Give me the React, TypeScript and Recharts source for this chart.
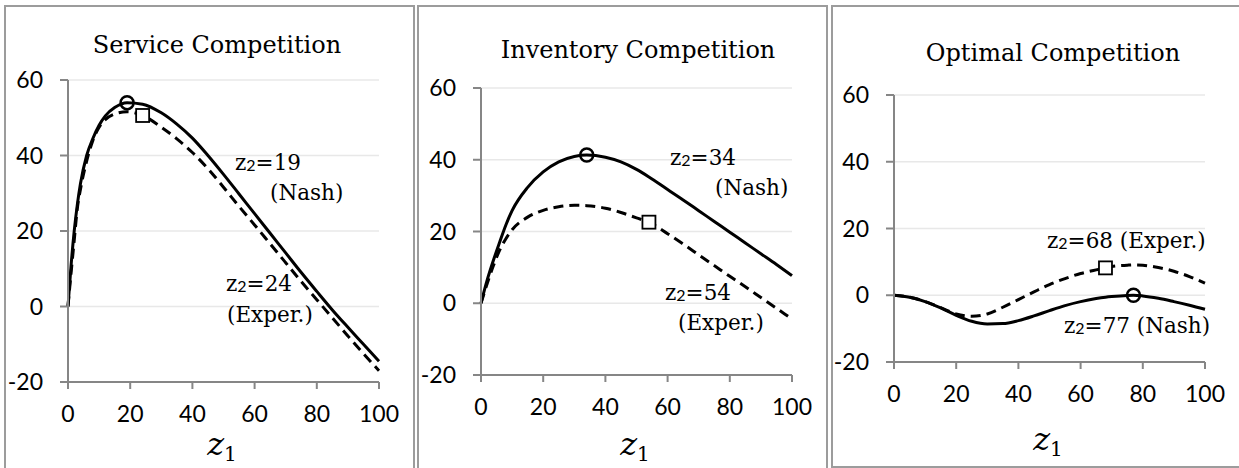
import React from "react";
import {
  ComposedChart,
  Line,
  Scatter,
  XAxis,
  YAxis,
  CartesianGrid,
} from "recharts";

// values, one set per panel
const serviceZ1 = [0, 1, 2, 3, 4, 6, 8, 10, 12, 15, 19, 24, 30, 35, 40, 45, 50, 55, 60, 65, 70, 75, 80, 85, 90, 95, 100];
const serviceNash = [0, 11, 20, 27, 32.5, 40, 44.5, 48, 50.5, 52.7, 54, 53.6, 51.3, 48.3, 44.6, 40, 35, 29.8, 24.6, 19.4, 14.2, 9, 4, -0.9, -5.5, -10, -14.5];
const serviceExper = [0, 9, 17.5, 26, 31, 38.5, 44, 47.5, 49.5, 51, 51.6, 50.6, 47.5, 44.4, 40.8, 36.5, 31.6, 26.5, 21.6, 16.6, 11.6, 6.6, 1.8, -3, -7.8, -12.5, -17];

const inventoryZ1 = [0, 2, 4, 6, 8, 10, 15, 20, 25, 30, 34, 40, 45, 50, 54, 60, 65, 70, 75, 80, 85, 90, 95, 100];
const inventoryNash = [0, 6.5, 12, 17, 21.8, 25.8, 32.3, 36.6, 39.4, 40.9, 41.3, 40.7, 39.4, 37.3, 35.2, 31.7, 28.8, 25.8, 22.8, 19.8, 16.8, 13.8, 10.8, 7.7];
const inventoryExper = [0, 5.5, 10.5, 14.8, 18, 20.5, 24, 25.9, 26.9, 27.3, 27.2, 26.5, 25.3, 23.8, 22.6, 19.4, 16.5, 13.5, 10.5, 7.5, 4.6, 1.6, -1.4, -4.4];

const optimalZ1 = [0, 5, 10, 15, 20, 25, 30, 35, 40, 45, 50, 55, 60, 65, 68, 70, 75, 77, 80, 85, 90, 95, 100];
const optimalNash = [0, -0.6, -1.9, -3.8, -6, -7.8, -8.6, -8.5, -7.6, -6.2, -4.6, -3.1, -1.9, -1, -0.6, -0.4, -0.05, 0, -0.2, -0.9, -1.9, -3, -4.2];
const optimalExper = [0, -0.6, -1.9, -3.7, -5.6, -6.3, -5.6, -3.6, -1.3, 1, 3.2, 5, 6.5, 7.6, 8.2, 8.6, 9, 9.1, 9, 8.3, 7.2, 5.6, 3.6];

const xTicks = [0, 20, 40, 60, 80, 100];
const yTicks = [-20, 0, 20, 40, 60];

const serif = "'DejaVu Serif', serif";
const sans = "Lato, 'Open Sans', sans-serif";
const axisGray = "#868686";
const noteSize = 21.5;

type Pt = { z1: number; v: number };

const Circle = (p: any) => (
  <circle cx={p.cx} cy={p.cy} r={6.5} fill="none" stroke="#000" strokeWidth={2.5} />
);
const Square = (p: any) => (
  <rect x={p.cx - 6.5} y={p.cy - 6.5} width={13} height={13} fill="#fff" stroke="#000" strokeWidth={1.8} />
);

const Z2 = ({ x, y, n, rest }: { x: number; y: number; n: string; rest?: string }) => (
  <text x={x} y={y} fontFamily={serif} fontSize={noteSize} fill="#000">
    z
    <tspan fontFamily={sans} fontSize={16} dy={1}>2</tspan>
    <tspan dy={-1}>={n}{rest ?? ""}</tspan>
  </text>
);

const Note = ({ x, y, t }: { x: number; y: number; t: string }) => (
  <text x={x} y={y} fontFamily={serif} fontSize={noteSize} fill="#000">
    {t}
  </text>
);

type PanelProps = {
  left: number;
  z1: number[];
  nash: number[];
  exper: number[];
  nashPt: Pt;
  experPt: Pt;
  top: number;
  bottom: number;
  children: React.ReactNode;
};

const Panel = ({ left, z1, nash, exper, nashPt, experPt, top, bottom, children }: PanelProps) => {
  const rows = z1.map((z, i) => ({ z1: z, nash: nash[i], exper: exper[i] }));
  return (
    <div style={{ position: "absolute", left, top: 0, width: 413, height: 468 }}>
      <ComposedChart
        width={413}
        height={468}
        data={rows}
        margin={{ top, right: 34, left: 18, bottom: 468 - bottom - 40 }}
      >
        <CartesianGrid vertical={false} stroke="#e8e8e8" strokeWidth={1.5} />
        <XAxis
          type="number"
          dataKey="z1"
          domain={[0, 100]}
          ticks={xTicks}
          interval={0}
          height={40}
          tickSize={7}
          tickMargin={17}
          axisLine={{ stroke: axisGray, strokeWidth: 2 }}
          tickLine={{ stroke: axisGray, strokeWidth: 2 }}
          tick={{ fill: "#000", fontSize: 23, fontFamily: sans }}
        />
        <YAxis
          type="number"
          domain={[-20, 60]}
          ticks={yTicks}
          interval={0}
          width={50}
          tickSize={8}
          tickMargin={17}
          axisLine={{ stroke: axisGray, strokeWidth: 2 }}
          tickLine={{ stroke: axisGray, strokeWidth: 2 }}
          tick={{ fill: "#000", fontSize: 23, fontFamily: sans }}
        />
        <Line
          type="monotone"
          dataKey="exper"
          stroke="#000"
          strokeWidth={3}
          strokeDasharray="10 6"
          dot={false}
          isAnimationActive={false}
        />
        <Line
          type="monotone"
          dataKey="nash"
          stroke="#000"
          strokeWidth={3}
          dot={false}
          isAnimationActive={false}
        />
        <Scatter data={[nashPt]} dataKey="v" shape={Circle} isAnimationActive={false} />
        <Scatter data={[experPt]} dataKey="v" shape={Square} isAnimationActive={false} />
      </ComposedChart>
      <svg
        width={413}
        height={468}
        style={{ position: "absolute", left: 0, top: 0, pointerEvents: "none" }}
      >
        {children}
      </svg>
    </div>
  );
};

const Z1Label = ({ cx, y }: { cx: number; y: number }) => (
  <text x={cx} y={y} textAnchor="middle" fill="#000">
    <tspan fontFamily={serif} fontStyle="italic" fontSize={32}>z</tspan>
    <tspan fontFamily={serif} fontSize={20} dy={6}>1</tspan>
  </text>
);

const Title = ({ cx, y, t }: { cx: number; y: number; t: string }) => (
  <text x={cx} y={y} textAnchor="middle" fontFamily={serif} fontSize={24} fill="#000">
    {t}
  </text>
);

const Box = ({ left, width, height }: { left: number; width: number; height: number }) => (
  <div
    style={{
      position: "absolute",
      left,
      top: 5,
      width,
      height,
      boxSizing: "border-box",
      border: "2px solid #9c9c9c",
    }}
  />
);

export default function App() {
  return (
    <div
      style={{
        position: "absolute",
        left: 0,
        top: 0,
        width: 1239,
        height: 468,
        overflow: "hidden",
        background: "#fff",
      }}
    >
      <Box left={4} width={411} height={480} />
      <Box left={417} width={411} height={480} />
      <Box left={831} width={420} height={463} />

      <Panel
        left={0}
        z1={serviceZ1}
        nash={serviceNash}
        exper={serviceExper}
        nashPt={{ z1: 19, v: 54 }}
        experPt={{ z1: 24, v: 50.6 }}
        top={80}
        bottom={382}
      >
        <Title cx={217} y={53} t="Service Competition" />
        <Z2 x={235} y={170} n="19" />
        <Note x={270} y={200} t="(Nash)" />
        <Z2 x={226} y={291} n="24" />
        <Note x={227} y={322} t="(Exper.)" />
        <Z1Label cx={222} y={455} />
      </Panel>

      <Panel
        left={413}
        z1={inventoryZ1}
        nash={inventoryNash}
        exper={inventoryExper}
        nashPt={{ z1: 34, v: 41.3 }}
        experPt={{ z1: 54, v: 22.6 }}
        top={88}
        bottom={375}
      >
        <Title cx={225} y={58} t="Inventory Competition" />
        <Z2 x={257} y={165} n="34" />
        <Note x={302} y={195} t="(Nash)" />
        <Z2 x={252} y={300} n="54" />
        <Note x={265} y={330} t="(Exper.)" />
        <Z1Label cx={222} y={455} />
      </Panel>

      <Panel
        left={826}
        z1={optimalZ1}
        nash={optimalNash}
        exper={optimalExper}
        nashPt={{ z1: 77, v: 0 }}
        experPt={{ z1: 68, v: 8.2 }}
        top={95}
        bottom={362}
      >
        <Title cx={227} y={61} t="Optimal Competition" />
        <Z2 x={221} y={248} n="68" rest=" (Exper.)" />
        <Z2 x={238} y={333} n="77" rest=" (Nash)" />
        <Z1Label cx={222} y={450} />
      </Panel>
    </div>
  );
}
